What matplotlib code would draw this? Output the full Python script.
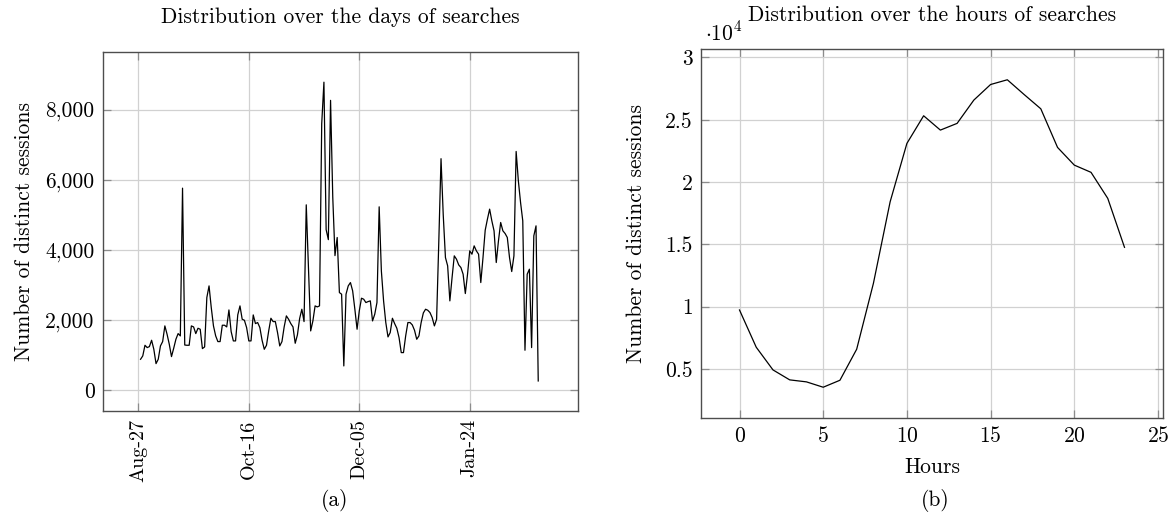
import datetime
import matplotlib
matplotlib.use('Agg')
import matplotlib.pyplot as plt
import matplotlib.dates as mdates
from matplotlib.ticker import FuncFormatter

plt.rcParams['font.family'] = 'serif'
plt.rcParams['font.serif'] = ['cmr10']
plt.rcParams['mathtext.fontset'] = 'cm'
plt.rcParams['axes.formatter.use_mathtext'] = True

# daily distinct sessions, starting 28 Aug
start_day = datetime.date(2017, 8, 28)
daily_sessions = [
    884, 980, 1283, 1217, 1245, 1426, 1170, 760, 884, 1264, 1388, 1835, 1597, 1312, 960, 1198, 1454, 1616, 1550, 5760,
    1290, 1283, 1283, 1835, 1806, 1616, 1768, 1740, 1188, 1236, 2643, 2975, 2357, 1835, 1550, 1388, 1388, 1854, 1854, 1806,
    2290, 1673, 1407, 1407, 2150, 2405, 2025, 1996, 1787, 1407, 1407, 2148, 1901, 1930, 1787, 1426, 1169, 1283, 1692, 2053,
    1958, 1958, 1645, 1264, 1388, 1806, 2120, 2025, 1901, 1806, 1340, 1578, 2044, 2310, 1958, 5285, 3500, 1692, 1977, 2405,
    2376, 2405, 7600, 8780, 4578, 4293, 8262, 5500, 3838, 4354, 2785, 2738, 694, 2738, 2975, 3070, 2833, 2310, 1740, 2262,
    2624, 2595, 2500, 2528, 2548, 1977, 2167, 2500, 5228, 3400, 2548, 1930, 1521, 1645, 2053, 1901, 1768, 1502, 1074, 1074,
    1550, 1930, 1930, 1863, 1711, 1454, 1550, 1930, 2205, 2310, 2281, 2215, 2072, 1835, 2025, 4250, 6600, 5000, 3783, 3546,
    2548, 3213, 3831, 3736, 3574, 3498, 3308, 2757, 3308, 3973, 3878, 4116, 3973, 3878, 3070, 3783, 4563, 4876, 5162, 4829,
    4544, 3641, 4259, 4782, 4544, 4468, 4354, 3783, 3384, 3831, 6806, 5970, 5352, 4829, 1141, 3308, 3451, 1217, 4401, 4686, 266,
]
days = [start_day + datetime.timedelta(days=i) for i in range(len(daily_sessions))]
date_ticks = [datetime.date(2017, 8, 27) + datetime.timedelta(days=50 * k) for k in range(4)]

# hourly distinct sessions
hours = list(range(24))
hourly_sessions = [9730, 6740, 4920, 4120, 3960, 3530, 4090, 6580, 11870, 18420, 23100, 25320,
                   24170, 24710, 26580, 27830, 28210, 27030, 25880, 22780, 21360, 20780, 18690, 14760]

fs = 15.5
fig = plt.figure(figsize=(11.72, 5.19), dpi=100)
ax1 = fig.add_axes([103 / 1172, 1 - 411 / 519, 475 / 1172, 359 / 519])
ax2 = fig.add_axes([701 / 1172, 1 - 418 / 519, 462 / 1172, 369 / 519])

for ax in (ax1, ax2):
    ax.set_axisbelow(True)
    ax.grid(True, color='0.82', lw=0.9)
    ax.tick_params(direction='in', length=6, width=0.9, color='0.55', top=True, right=True,
                   labelsize=fs, pad=6)
    for s in ax.spines.values():
        s.set_color('0.3')
        s.set_linewidth(1.0)

# (a) days
ax1.plot(days, daily_sessions, color='black', lw=0.9)
ax1.set_xlim(datetime.date(2017, 8, 27) - datetime.timedelta(days=16.8),
             datetime.date(2017, 8, 27) + datetime.timedelta(days=199.4))
ax1.set_ylim(-590, 9640)
ax1.set_xticks(date_ticks)
ax1.xaxis.set_major_formatter(mdates.DateFormatter('%b-%d'))
ax1.set_yticks([0, 2000, 4000, 6000, 8000])
ax1.yaxis.set_major_formatter(FuncFormatter(lambda v, p: '{:,.0f}'.format(v)))
for lab in ax1.get_xticklabels():
    lab.set_rotation(90)
    lab.set_fontsize(fs - 1)
ax1.set_ylabel('Number of distinct sessions', fontsize=fs, labelpad=8)
ax1.set_title('Distribution over the days of searches', fontsize=fs, pad=21)

# (b) hours
ax2.plot(hours, hourly_sessions, color='black', lw=0.9)
ax2.set_xlim(-2.3, 25.3)
ax2.set_ylim(1060, 30680)
ax2.set_xticks([0, 5, 10, 15, 20, 25])
ax2.set_yticks([5000, 10000, 15000, 20000, 25000, 30000])
ax2.yaxis.set_major_formatter(FuncFormatter(lambda v, p: '{:g}'.format(v / 1e4)))
ax2.set_xlabel('Hours', fontsize=fs, labelpad=8)
ax2.set_ylabel('Number of distinct sessions', fontsize=fs, labelpad=14)
ax2.set_title('Distribution over the hours of searches', fontsize=fs, pad=20)
fig.text(705 / 1172, 1 - 33 / 519, r'$\cdot10^{4}$', fontsize=fs, ha='left', va='center')

fig.text(335 / 1172, 1 - 500 / 519, '(a)', fontsize=fs, ha='center', va='center')
fig.text(935 / 1172, 1 - 500 / 519, '(b)', fontsize=fs, ha='center', va='center')

fig.savefig('out.png', dpi=100)
